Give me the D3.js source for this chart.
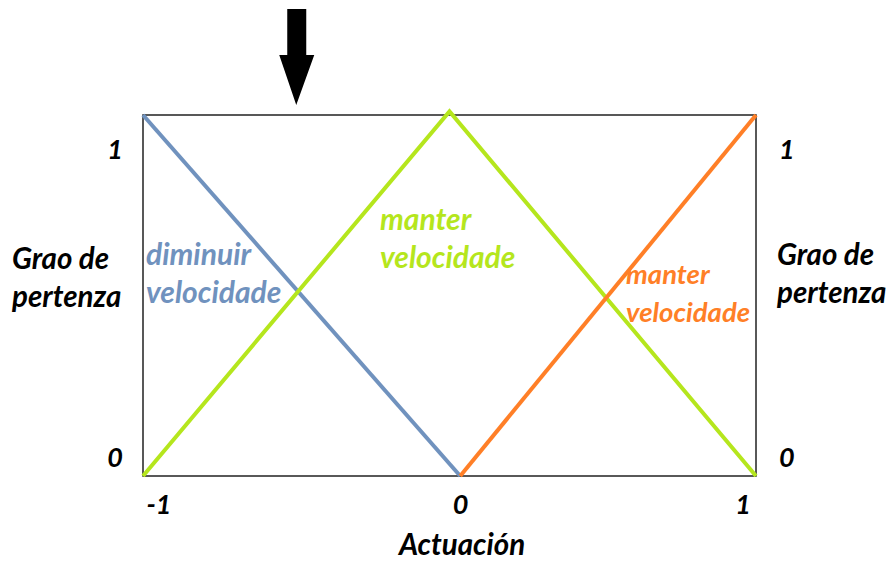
<!DOCTYPE html>
<html>
<head>
<meta charset="utf-8">
<script src="https://cdn.jsdelivr.net/npm/d3@7"></script>
<style>
  body { margin: 0; background: #fff; }
  text { font-family: Lato, "Open Sans", sans-serif; font-weight: bold; font-style: italic; }
</style>
</head>
<body>
<div id="chart"></div>
<script>
// Membership functions (x = actuación, y = grao de pertenza)
const diminuir = [[-1, 1], [0.035, 0]];
const manterCentro = [[-1, 0], [0, 1.01], [1, 0]];
const manterDereita = [[0.035, 0], [1, 1]];

const xTicks = [-1, 0, 1];
const yTicks = [0, 1];

const width = 893, height = 561;
const margin = {left: 143, right: 137, top: 115, bottom: 85};

let svg = d3.select("#chart").append("svg")
  .attr("width", width)
  .attr("height", height);

let x = d3.scaleLinear()
  .domain([-1, 1])
  .range([margin.left, width - margin.right]);

let y = d3.scaleLinear()
  .domain([0, 1])
  .range([height - margin.bottom, margin.top]);

let line = d3.line()
  .x(d => x(d[0]))
  .y(d => y(d[1]));

// Frame
svg.append("rect")
  .attr("x", x(-1))
  .attr("y", y(1))
  .attr("width", x(1) - x(-1))
  .attr("height", y(0) - y(1))
  .attr("fill", "none")
  .attr("stroke", "#222")
  .attr("stroke-width", 1.5);

// Curves
let series = [
  {data: diminuir, color: "#7092BE"},
  {data: manterCentro, color: "#B5E61D"},
  {data: manterDereita, color: "#FF7F27"}
];
for (let s of series) {
  svg.append("path")
    .datum(s.data)
    .attr("d", line)
    .attr("fill", "none")
    .attr("stroke", s.color)
    .attr("stroke-width", 4)
    .attr("stroke-linejoin", "miter");
}

// X tick labels
for (let t of xTicks) {
  svg.append("text")
    .attr("x", x(t) + (t < 0 ? 16 : (t > 0 ? -13 : 11)))
    .attr("y", y(0) + 38)
    .attr("text-anchor", "middle")
    .attr("font-size", 27)
    .text(t);
}

// Y tick labels (both sides)
for (let t of yTicks) {
  let ty = t == 1 ? y(t) + 44 : y(t) - 9;
  svg.append("text")
    .attr("x", x(-1) - 20)
    .attr("y", ty)
    .attr("text-anchor", "end")
    .attr("font-size", 27)
    .text(t);
  svg.append("text")
    .attr("x", x(1) + 23)
    .attr("y", ty)
    .attr("text-anchor", "start")
    .attr("font-size", 27)
    .text(t);
}

// Two-line labels
function twoLines(tx, ty, lines, color, size) {
  let t = svg.append("text")
    .attr("x", tx)
    .attr("y", ty)
    .attr("fill", color)
    .attr("font-size", size);
  lines.forEach((l, i) => {
    t.append("tspan")
      .attr("x", tx)
      .attr("dy", i == 0 ? 0 : 38)
      .text(l);
  });
}

// Axis titles
twoLines(12, 269, ["Grao de", "pertenza"], "#000", 29.5);
twoLines(777, 265, ["Grao de", "pertenza"], "#000", 29.5);

svg.append("text")
  .attr("x", 462)
  .attr("y", 555)
  .attr("text-anchor", "middle")
  .attr("font-size", 29.5)
  .text("Actuación");

// Curve labels
twoLines(146, 265, ["diminuir", "velocidade"], "#7092BE", 30);
twoLines(380, 230, ["manter", "velocidade"], "#B5E61D", 30);
twoLines(626, 284, ["manter", "velocidade"], "#FF7F27", 27.5);

// Arrow marking the input value
let ax = x(-0.5);
svg.append("path")
  .attr("d", d3.line()([
    [ax - 9, 9], [ax + 10, 9], [ax + 10, 55], [ax + 18, 55],
    [ax, 105], [ax - 17, 55], [ax - 9, 55]
  ]))
  .attr("fill", "#000");
</script>
</body>
</html>
